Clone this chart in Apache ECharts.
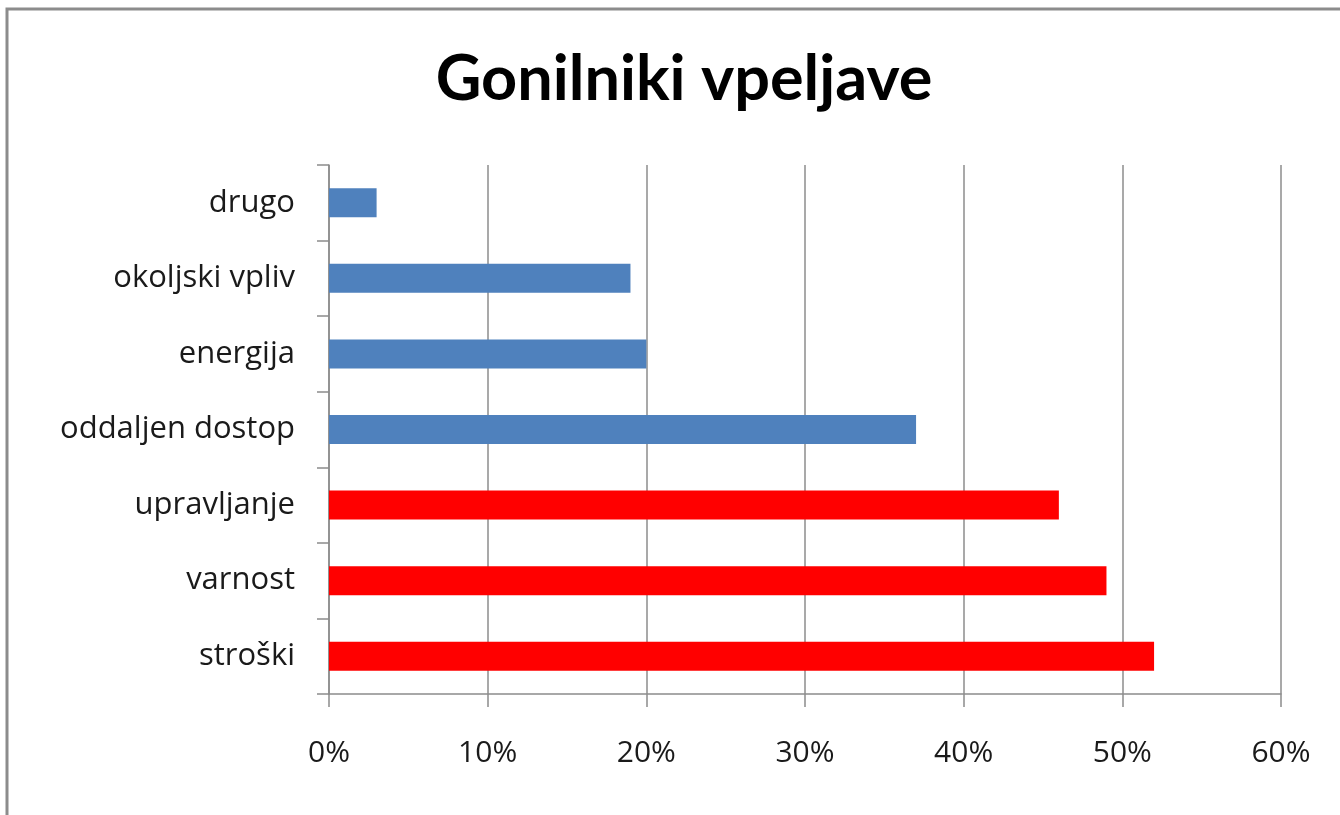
<!DOCTYPE html>
<html>
<head>
<meta charset="utf-8">
<script src="https://cdn.jsdelivr.net/npm/echarts@6/dist/echarts.min.js"></script>
<style>
  html, body { margin: 0; padding: 0; background: #fff; }
  #chart { width: 1340px; height: 815px; }
</style>
</head>
<body>
<div id="chart"></div>
<script>
// categories, bottom to top
var categories = ['stroški', 'varnost', 'upravljanje', 'oddaljen dostop', 'energija', 'okoljski vpliv', 'drugo'];
var values = [52, 49, 46, 37, 20, 19, 3];
var barColors = ['#ff0000', '#ff0000', '#ff0000', '#4f81bd', '#4f81bd', '#4f81bd', '#4f81bd'];

var chart = echarts.init(document.getElementById('chart'));

var option = {
    backgroundColor: '#fff',
    animation: false,
    title: {
        text: 'Gonilniki vpeljave',
        left: 679,
        top: 43,
        textAlign: 'center',
        textStyle: { fontFamily: 'Lato', fontWeight: 'bold', fontSize: 63, color: '#000' }
    },
    graphic: [{
        type: 'polyline',
        shape: { points: [[7, 815], [7, 9], [1340, 9]] },
        style: { stroke: '#8c8c8c', lineWidth: 3, fill: null }
    }],
    grid: { left: 329, top: 165, right: 59, bottom: 121 },
    xAxis: {
        type: 'value',
        min: 0,
        max: 60,
        interval: 10,
        axisLine: { show: true, lineStyle: { color: '#8c8c8c', width: 1.5 } },
        axisTick: { show: true, length: 13, lineStyle: { color: '#8c8c8c', width: 1.5 } },
        splitLine: { show: true, lineStyle: { color: '#8c8c8c', width: 1.5 } },
        axisLabel: {
            margin: 44,
            fontFamily: 'Open Sans',
            fontSize: 30,
            color: '#1a1a1a',
            formatter: '{value}%'
        }
    },
    yAxis: {
        type: 'category',
        data: categories,
        axisLine: { show: true, lineStyle: { color: '#8c8c8c', width: 1.5 } },
        axisTick: { show: true, length: 12, lineStyle: { color: '#8c8c8c', width: 1.5 } },
        axisLabel: {
            margin: 34,
            fontFamily: 'Open Sans',
            fontSize: 31,
            color: '#1a1a1a'
        }
    },
    series: [{
        type: 'bar',
        barWidth: 29,
        data: values.map(function (v, i) {
            return { value: v, itemStyle: { color: barColors[i] } };
        })
    }]
};

chart.setOption(option);
</script>
</body>
</html>
